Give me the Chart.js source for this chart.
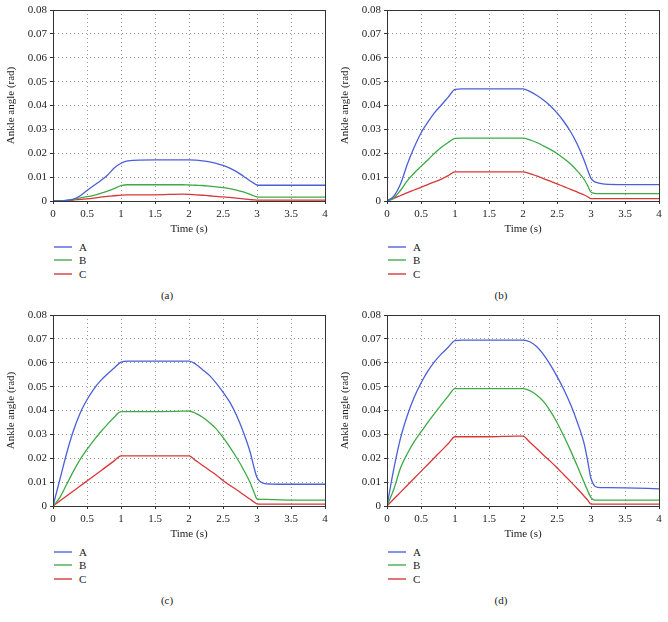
<!DOCTYPE html>
<html>
<head>
<meta charset="utf-8">
<script src="https://cdn.jsdelivr.net/npm/chart.js@4/dist/chart.umd.min.js"></script>
<style>
  html, body { margin: 0; padding: 0; background: #fff; }
  body { width: 668px; height: 622px; position: relative; overflow: hidden; font-family: "Liberation Serif", "DejaVu Serif", serif; color: #222; }
  .panel { position: absolute; width: 334px; height: 311px; }
  .panel canvas { position: absolute; left: 0; top: 0; }
  .leg { position: absolute; left: 54px; font-size: 11px; font-family: "Liberation Serif", serif; }
  .leg .row { position: absolute; left: 0; height: 14px; width: 60px; }
  .leg .ln { position: absolute; left: 0; top: 5px; width: 18px; height: 2px; }
  .leg .tx { position: absolute; left: 25px; top: -1px; line-height: 14px; }
  .cap { position: absolute; top: 289px; left: 0; width: 334px; text-align: center; font-size: 11px; font-family: "Liberation Serif", serif; }
</style>
</head>
<body>
<script>
// ---- data ----
const times = [0,0.1,0.2,0.3,0.4,0.5,0.6,0.7,0.8,0.9,1.0,1.1,1.5,1.9,2.0,2.1,2.2,2.3,2.4,2.5,2.6,2.7,2.8,2.9,2.95,3.0,3.05,3.1,3.2,3.5,4.0];
const seriesNames = ['A','B','C'];
const panelLabels = ['(a)','(b)','(c)','(d)'];
const xTicks = [0,0.5,1,1.5,2,2.5,3,3.5,4];
const yTicks = [0,0.01,0.02,0.03,0.04,0.05,0.06,0.07,0.08];

const aA = [0,0,0.0003,0.0008,0.0022,0.0044,0.0065,0.0085,0.0108,0.0138,0.0158,0.0168,0.0172,0.0172,0.0172,0.0171,0.0168,0.0164,0.0158,0.0149,0.0138,0.0123,0.0104,0.0084,0.0075,0.0067,0.0066,0.0066,0.0066,0.0066,0.0066];
const aB = [0,0,0.0002,0.0007,0.0013,0.0018,0.0024,0.0032,0.0041,0.0052,0.0064,0.0068,0.0068,0.0068,0.0067,0.0066,0.0065,0.0062,0.0059,0.0056,0.0052,0.0046,0.0038,0.0028,0.0022,0.0017,0.0016,0.0016,0.0016,0.0016,0.0016];
const aC = [0,0,0.0002,0.0004,0.0007,0.0009,0.0012,0.0016,0.0019,0.0022,0.0025,0.0026,0.0026,0.0029,0.0028,0.0026,0.0024,0.0022,0.0019,0.0017,0.0015,0.0012,0.0009,0.0006,0.0005,0.0004,0.0004,0.0004,0.0004,0.0004,0.0004];

const bA = [0,0.002,0.0072,0.0155,0.0225,0.0285,0.033,0.037,0.0402,0.0435,0.0468,0.047,0.047,0.047,0.047,0.0459,0.0443,0.0423,0.0399,0.0369,0.0333,0.029,0.0237,0.017,0.013,0.0095,0.0081,0.0076,0.0071,0.0069,0.0069];
const bB = [0,0.0012,0.0045,0.0085,0.0117,0.0145,0.0172,0.020,0.0225,0.0245,0.0262,0.0263,0.0263,0.0263,0.0263,0.0256,0.0245,0.0231,0.0216,0.0199,0.0178,0.0155,0.0125,0.009,0.0065,0.0037,0.0032,0.0031,0.0031,0.0031,0.0031];
const bC = [0,0.0011,0.0023,0.0035,0.0046,0.0057,0.0069,0.008,0.0092,0.0106,0.0122,0.0122,0.0122,0.0122,0.0122,0.0115,0.0105,0.0094,0.0083,0.0072,0.006,0.0049,0.0037,0.0025,0.0018,0.001,0.001,0.001,0.001,0.001,0.001];

const cA = [0,0.011,0.022,0.0315,0.039,0.0445,0.049,0.0525,0.0553,0.0578,0.0603,0.0607,0.0607,0.0607,0.0607,0.0594,0.0571,0.0547,0.0515,0.0477,0.0435,0.0379,0.0309,0.0225,0.0168,0.0119,0.0102,0.0095,0.0092,0.0091,0.0091];
const cB = [0,0.0035,0.009,0.0145,0.0195,0.0237,0.0275,0.031,0.0342,0.0372,0.0395,0.0395,0.0395,0.0397,0.0398,0.0388,0.0372,0.035,0.0323,0.0287,0.0247,0.0203,0.0153,0.0097,0.0062,0.003,0.0028,0.0028,0.0027,0.0025,0.0025];
const cC = [0,0.0021,0.0042,0.0063,0.0084,0.0105,0.0126,0.0147,0.0168,0.0189,0.021,0.021,0.021,0.021,0.021,0.019,0.017,0.015,0.013,0.0107,0.0087,0.0068,0.0048,0.0028,0.0018,0.0009,0.0008,0.0008,0.0008,0.0008,0.0008];

const dA = [0,0.0155,0.0285,0.038,0.0455,0.0515,0.0565,0.0605,0.0637,0.0665,0.0693,0.0695,0.0695,0.0695,0.0695,0.0688,0.0668,0.0635,0.0592,0.0543,0.0488,0.0425,0.035,0.026,0.019,0.0115,0.0085,0.0078,0.0077,0.0076,0.0072];
const dB = [0,0.007,0.016,0.022,0.027,0.031,0.035,0.0388,0.0425,0.046,0.0492,0.0492,0.0492,0.0492,0.0492,0.0483,0.0465,0.0438,0.0398,0.035,0.0293,0.0232,0.0166,0.0098,0.0065,0.0035,0.0025,0.0025,0.0025,0.0025,0.0025];
const dC = [0,0.0029,0.0058,0.0087,0.0116,0.0145,0.0174,0.0203,0.0232,0.0261,0.029,0.029,0.029,0.0293,0.0293,0.0267,0.0241,0.0214,0.0188,0.016,0.0131,0.0102,0.0072,0.0041,0.0025,0.0008,0.0008,0.0008,0.0008,0.0008,0.0008];

const panelData = [[aA,aB,aC],[bA,bB,bC],[cA,cB,cC],[dA,dB,dC]];
const colors = ['#4a5fd8','#3daa45','#d93636'];
const legendColors = ['#8593e4','#7cc683','#e27676'];
const panelPos = [[0,0],[334,0],[0,305],[334,305]];

const frame = {
  id: 'frame',
  afterDraw(chart) {
    const {ctx, chartArea: a} = chart;
    ctx.save();
    ctx.strokeStyle = '#333';
    ctx.lineWidth = 1;
    ctx.setLineDash([]);
    ctx.strokeRect(Math.round(a.left) + 0.5, Math.round(a.top) + 0.5, Math.round(a.right - a.left), Math.round(a.bottom - a.top));
    ctx.restore();
  }
};

const font = { family: '"Liberation Serif", "DejaVu Serif", serif', size: 11 };

panelData.forEach((series, i) => {
  const div = document.createElement('div');
  div.className = 'panel';
  div.style.left = panelPos[i][0] + 'px';
  div.style.top = panelPos[i][1] + 'px';
  const cv = document.createElement('canvas');
  cv.width = 334; cv.height = 240;
  cv.style.width = '334px'; cv.style.height = '240px';
  div.appendChild(cv);

  const leg = document.createElement('div');
  leg.className = 'leg';
  leg.style.top = '241px';
  seriesNames.forEach((n, k) => {
    const r = document.createElement('div');
    r.className = 'row';
    r.style.top = [0, 13, 27][k] + 'px';
    const ln = document.createElement('div');
    ln.className = 'ln';
    ln.style.backgroundColor = legendColors[k];
    const tx = document.createElement('div');
    tx.className = 'tx';
    tx.textContent = n;
    r.appendChild(ln);
    r.appendChild(tx);
    leg.appendChild(r);
  });
  div.appendChild(leg);
  const cap = document.createElement('div');
  cap.className = 'cap';
  cap.textContent = panelLabels[i];
  div.appendChild(cap);
  document.body.appendChild(div);

  const gridOpts = { color: '#999', lineWidth: 1, drawTicks: true, tickLength: 3, tickBorderDash: [], tickColor: '#333' };
  const borderOpts = { display: true, color: '#333', width: 1, dash: [1, 3] };

  new Chart(cv, {
    type: 'line',
    data: {
      datasets: series.map((vals, k) => ({
        label: seriesNames[k],
        data: times.map((t, j) => ({ x: t, y: vals[j] })),
        borderColor: colors[k],
        backgroundColor: colors[k],
        borderWidth: 1.3,
        pointRadius: 0,
        fill: false,
        cubicInterpolationMode: 'monotone'
      }))
    },
    options: {
      responsive: false,
      animation: false,
      devicePixelRatio: 1,
      layout: { padding: { top: 10, right: 9, left: 0, bottom: 0 } },
      plugins: { legend: { display: false }, tooltip: { enabled: false } },
      scales: {
        x: {
          type: 'linear', min: 0, max: 4,
          afterBuildTicks: s => { s.ticks = xTicks.map(v => ({ value: v })); },
          afterFit: s => { s.height = 39; },
          ticks: { font, color: '#222', padding: 4, maxRotation: 0, autoSkip: false, callback: v => String(v) },
          grid: gridOpts,
          border: borderOpts,
          title: { display: true, text: 'Time (s)', font, color: '#222', padding: { top: 0, bottom: 4 } }
        },
        y: {
          type: 'linear', min: 0, max: 0.08,
          afterBuildTicks: s => { s.ticks = yTicks.map(v => ({ value: v })); },
          afterFit: s => { s.width = 53; },
          ticks: { font, color: '#222', padding: 3, autoSkip: false, callback: v => v === 0 ? '0' : v.toFixed(2) },
          grid: gridOpts,
          border: borderOpts,
          title: { display: true, text: 'Ankle angle (rad)', font, color: '#222', padding: { top: 5, bottom: 0 } }
        }
      }
    },
    plugins: [frame]
  });
});
</script>
</body>
</html>
